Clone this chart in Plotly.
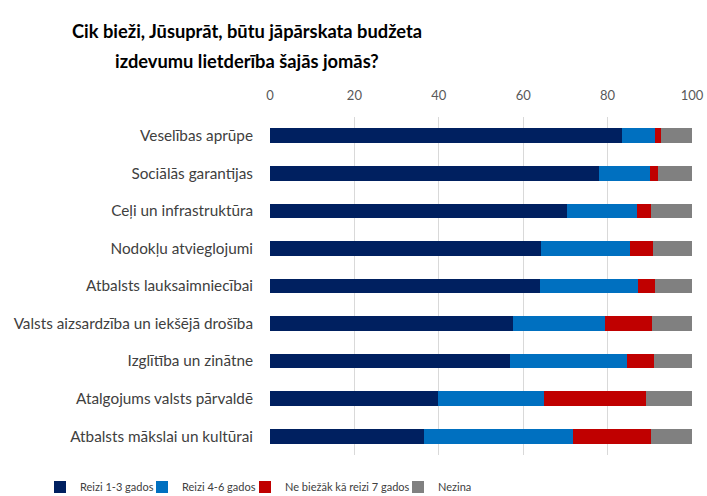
import plotly.graph_objects as go

categories = [
    "Veselības aprūpe",
    "Sociālās garantijas",
    "Ceļi un infrastruktūra",
    "Nodokļu atvieglojumi",
    "Atbalsts lauksaimniecībai",
    "Valsts aizsardzība un iekšējā drošība",
    "Izglītība un zinātne",
    "Atalgojums valsts pārvaldē",
    "Atbalsts mākslai un kultūrai",
]
reizi_1_3 = [83.3, 78.0, 70.4, 64.2, 63.9, 57.6, 56.8, 39.7, 36.5]
reizi_4_6 = [7.9, 12.1, 16.5, 21.2, 23.3, 21.7, 27.7, 25.2, 35.2]
ne_biezak = [1.5, 1.9, 3.4, 5.4, 4.1, 11.2, 6.4, 24.1, 18.6]
nezina = [7.3, 8.0, 9.7, 9.2, 8.7, 9.5, 9.1, 11.0, 9.7]

series_names = ["Reizi 1-3 gados", "Reizi 4-6 gados", "Ne biežāk kā reizi 7 gados", "Nezina"]
series_values = [reizi_1_3, reizi_4_6, ne_biezak, nezina]
colors = ["#002060", "#0070C0", "#C00000", "#808080"]
tick_vals = [0, 20, 40, 60, 80, 100]
title_lines = ["Cik bieži, Jūsuprāt, būtu jāpārskata budžeta",
               "izdevumu lietderība šajās jomās?"]

FONT = "Lato"
W, H = 707, 496
ML, MR, MT, MB = 270, 15, 117, 41
PW, PH = W - ML - MR, H - MT - MB

# legend entry text start positions (px)
legend_text_px = [78, 180, 283, 436]
legend_ids = ["legend", "legend2", "legend3", "legend4"]

fig = go.Figure()
for name, vals, col, lid in zip(series_names, series_values, colors, legend_ids):
    fig.add_trace(go.Bar(
        y=categories, x=vals, name=name, orientation="h",
        marker=dict(color=col, line=dict(width=0)),
        hoverinfo="x+name", legend=lid,
    ))

# two-line title, placed as annotations to control line spacing
title_centers_px = [31, 61]
for line, cy in zip(title_lines, title_centers_px):
    fig.add_annotation(
        text=f"<b>{line}</b>", showarrow=False,
        xref="paper", yref="paper",
        x=(247 - ML) / PW, y=(H - MB - cy) / PH,
        xanchor="center", yanchor="middle",
        font=dict(family=FONT, size=18.3, color="#000000"),
    )

legends = {}
for lid, tx in zip(legend_ids, legend_text_px):
    legends[lid] = dict(
        orientation="h", xref="paper", x=(tx - 38 - ML) / PW, xanchor="left",
        yref="paper", y=-(487 - (H - MB)) / PH, yanchor="middle",
        font=dict(family=FONT, size=11, color="#404040"),
        itemwidth=30, bgcolor="rgba(0,0,0,0)",
    )

fig.update_layout(
    barmode="stack",
    bargap=0.61,
    width=W, height=H,
    paper_bgcolor="white", plot_bgcolor="white",
    margin=dict(l=ML, r=MR, t=MT, b=MB, autoexpand=False),
    font=dict(family=FONT, color="#404040"),
    xaxis=dict(
        side="top", range=[0, 100], tickvals=tick_vals,
        showgrid=True, gridcolor="#D9D9D9", gridwidth=1,
        zeroline=False, showline=False, ticks="",
        ticklabelstandoff=13,
        tickfont=dict(family=FONT, size=13, color="#595959"),
        fixedrange=True, automargin=False,
    ),
    yaxis=dict(
        autorange="reversed", showgrid=False, showline=False, ticks="",
        ticklabelstandoff=16,
        tickfont=dict(family=FONT, size=15.3, color="#404040"),
        fixedrange=True, automargin=False,
    ),
    showlegend=True,
    **legends,
)

fig.write_html("out.html", config={"displayModeBar": False},
               post_script="document.body.style.margin='0';")
